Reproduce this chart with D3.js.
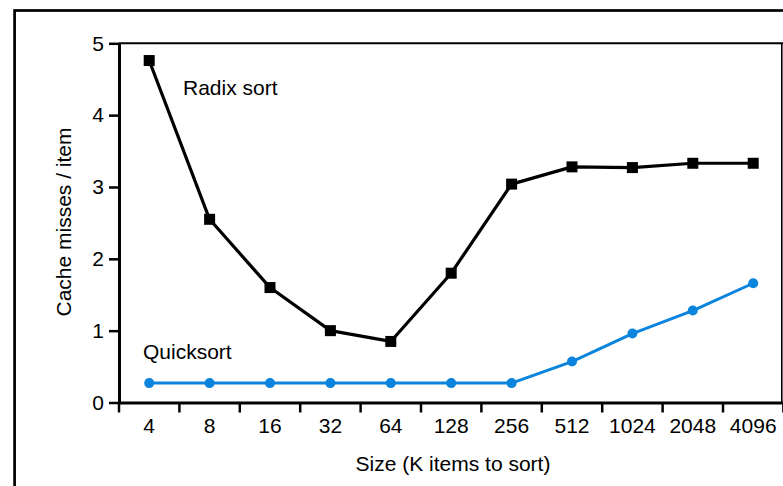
<!DOCTYPE html>
<html>
<head>
<meta charset="utf-8">
<script src="https://cdn.jsdelivr.net/npm/d3@7/dist/d3.min.js"></script>
<style>
  html, body { margin: 0; padding: 0; background: #fff; }
  svg { display: block; }
  text { font-family: "Liberation Sans", Arial, sans-serif; fill: #000; }
</style>
</head>
<body>
<svg id="chart" width="783" height="486"></svg>
<script>
// Problem sizes, in thousands of items
const sizes = ["4", "8", "16", "32", "64", "128", "256", "512", "1024", "2048", "4096"];
// Cache misses per item for each algorithm
const radixMisses = [4.76, 2.55, 1.60, 1.00, 0.85, 1.80, 3.04, 3.28, 3.27, 3.33, 3.33];
const quickMisses = [0.27, 0.27, 0.27, 0.27, 0.27, 0.27, 0.27, 0.57, 0.96, 1.28, 1.66];
const yTicks = [0, 1, 2, 3, 4, 5];

(function () {
  const svg = d3.select("#chart");
  const plotLeft = 119, plotRight = 783.4, plotTop = 43.3, plotBottom = 402.5;
  const fontSize = 21;
  const blue = "#0a84dc";
  const font = "Liberation Sans, Arial, sans-serif";

  // Outer frame (runs off the right and bottom edges)
  svg.append("rect")
    .attr("x", 14.6).attr("y", 10.5)
    .attr("width", 800).attr("height", 500)
    .attr("fill", "none").attr("stroke", "#000").attr("stroke-width", 2.7);

  const x = d3.scaleBand().domain(sizes).range([plotLeft, plotRight]);
  const y = d3.scaleLinear().domain([0, 5]).range([plotBottom, plotTop]);

  // Plot box: top and right edges
  svg.append("line").attr("x1", plotLeft).attr("x2", 790).attr("y1", plotTop).attr("y2", plotTop)
    .attr("stroke", "#000").attr("stroke-width", 2);
  svg.append("line").attr("x1", 781.8).attr("x2", 781.8).attr("y1", plotTop).attr("y2", plotBottom)
    .attr("stroke", "#000").attr("stroke-width", 1.6);

  // Y axis
  const yAxis = svg.append("g").attr("transform", `translate(${plotLeft},0)`)
    .call(d3.axisLeft(y).tickValues(yTicks).tickFormat(d3.format("d")).tickSize(10).tickPadding(5).tickSizeOuter(0));
  yAxis.select(".domain").attr("stroke-width", 3);
  yAxis.selectAll(".tick line").attr("stroke-width", 2.5);
  yAxis.selectAll(".tick text").attr("font-size", fontSize).attr("font-family", font).attr("fill", "#000");

  // X axis: labels centred on each band, ticks on band boundaries
  const xAxis = svg.append("g").attr("transform", `translate(0,${plotBottom})`)
    .call(d3.axisBottom(x).tickSize(0).tickPadding(16).tickSizeOuter(0));
  xAxis.select(".domain").attr("stroke-width", 3);
  xAxis.selectAll(".tick text").attr("font-size", fontSize).attr("font-family", font).attr("fill", "#000");
  const bounds = sizes.map(d => x(d)).concat([x(sizes[sizes.length - 1]) + x.bandwidth()]);
  svg.append("g").selectAll("line").data(bounds).join("line")
    .attr("x1", d => d).attr("x2", d => d)
    .attr("y1", plotBottom).attr("y2", plotBottom + 10)
    .attr("stroke", "#000").attr("stroke-width", 2.5);

  const cx = (d, i) => x(sizes[i]) + x.bandwidth() / 2;
  const line = d3.line().x(cx).y(d => y(d));

  // Radix sort series
  svg.append("path").datum(radixMisses)
    .attr("d", line).attr("fill", "none").attr("stroke", "#000")
    .attr("stroke-width", 3.2).attr("stroke-linejoin", "round");
  svg.append("g").selectAll("rect").data(radixMisses).join("rect")
    .attr("x", (d, i) => cx(d, i) - 5.5).attr("y", d => y(d) - 5.5)
    .attr("width", 11).attr("height", 11).attr("fill", "#000");

  // Quicksort series
  svg.append("path").datum(quickMisses)
    .attr("d", line).attr("fill", "none").attr("stroke", blue)
    .attr("stroke-width", 3).attr("stroke-linejoin", "round");
  svg.append("g").selectAll("circle").data(quickMisses).join("circle")
    .attr("cx", cx).attr("cy", d => y(d))
    .attr("r", 5).attr("fill", blue);

  // Series labels
  svg.append("text").attr("x", 183).attr("y", 95).attr("font-size", fontSize).text("Radix sort");
  svg.append("text").attr("x", 143).attr("y", 359).attr("font-size", fontSize).text("Quicksort");

  // Axis titles
  svg.append("text").attr("x", 453).attr("y", 471).attr("text-anchor", "middle")
    .attr("font-size", fontSize).text("Size (K items to sort)");
  svg.append("text").attr("transform", "translate(71,222) rotate(-90)")
    .attr("text-anchor", "middle").attr("font-size", fontSize).text("Cache misses / item");
})();
</script>
</body>
</html>
